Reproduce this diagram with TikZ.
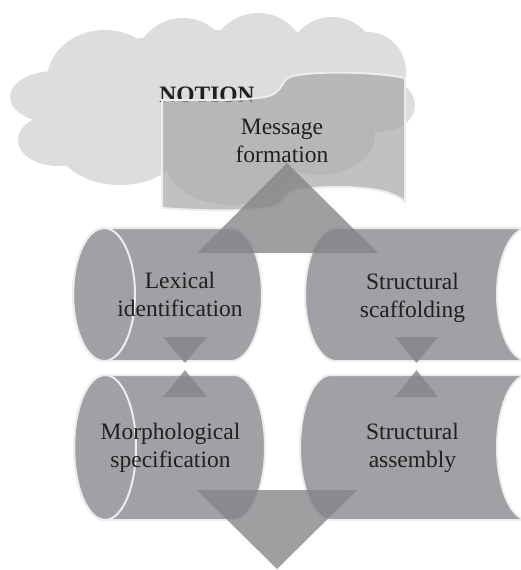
\documentclass[tikz,border=0pt]{standalone}
\usepackage{fontspec}
\setmainfont{Liberation Serif}
\definecolor{cloudgray}{HTML}{DCDDDF}
\definecolor{bannergray}{HTML}{A7A8AA}
\definecolor{cylgray}{HTML}{A0A1A4}
\definecolor{arrowgray}{HTML}{838487}
\definecolor{rimwhite}{HTML}{EDEDED}
\definecolor{inkdark}{HTML}{231F20}
\begin{document}
\begin{tikzpicture}[x=1pt,y=-1pt,
  banner/.style={fill=bannergray,fill opacity=0.71,draw=rimwhite,line width=2pt},
  cyl/.style={fill=cylgray,draw=rimwhite,line width=2pt},
  cylface/.style={draw=rimwhite,line width=2pt},
  arrowtri/.style={fill=arrowgray,fill opacity=0.78},
  steplabel/.style={font=\fontsize{23.5}{27.5}\selectfont,text=inkdark,
    align=center,inner sep=0pt,anchor=base},
  titlelabel/.style={font=\fontsize{23.5}{27.5}\selectfont\bfseries,text=inkdark,
    inner sep=0pt,anchor=base}]
\useasboundingbox (0,0) rectangle (521,570);

% cloud built from overlapping puffs
\fill[cloudgray]
  (220,100) ellipse[x radius=170,y radius=70]
  (55,97)   ellipse[x radius=45,y radius=26]
  (105,80)  ellipse[x radius=58,y radius=50]
  (183,65)  ellipse[x radius=48,y radius=47]
  (258,60)  ellipse[x radius=48,y radius=47]
  (332,62)  ellipse[x radius=45,y radius=45]
  (368,72)  ellipse[x radius=38,y radius=40]
  (380,105) ellipse[x radius=35,y radius=27]
  (58,140)  ellipse[x radius=40,y radius=26]
  (120,140) ellipse[x radius=65,y radius=45]
  (230,160) ellipse[x radius=65,y radius=45]
  (320,135) ellipse[x radius=55,y radius=40];

\node[titlelabel] (notion) at (207,102) {NOTION};

% waving banner
\path[banner] (162,100) -- (162,208)
  .. controls (200,211) and (255,212) .. (275,206)
  .. controls (285,203) and (283,192) .. (300,189)
  .. controls (340,185) and (390,186) .. (405,202)
  -- (405,78)
  .. controls (380,72) and (310,70) .. (290,77)
  .. controls (280,81) and (284,93) .. (265,97)
  .. controls (240,101) and (190,100) .. (162,100) -- cycle;

% upper left cylinder
\path[cyl] (104,228) -- (231,228)
  arc[start angle=270,end angle=450,x radius=31,y radius=66.5]
  -- (104,361)
  arc[start angle=90,end angle=270,x radius=31,y radius=66.5] -- cycle;
\draw[cylface] (104,294.5) ellipse[x radius=31,y radius=66.5];

% upper right cylinder
\path[cyl] (336,228) -- (528,228)
  arc[start angle=270,end angle=90,x radius=31,y radius=66.5]
  -- (336,361)
  arc[start angle=90,end angle=270,x radius=31,y radius=66.5] -- cycle;

% lower left cylinder
\path[cyl] (105,375) -- (234,375)
  arc[start angle=270,end angle=450,x radius=31,y radius=72.5]
  -- (105,520)
  arc[start angle=90,end angle=270,x radius=31,y radius=72.5] -- cycle;
\draw[cylface] (105,447.5) ellipse[x radius=31,y radius=72.5];

% lower right cylinder
\path[cyl] (331,375) -- (528,375)
  arc[start angle=270,end angle=90,x radius=31,y radius=72.5]
  -- (331,520)
  arc[start angle=90,end angle=270,x radius=31,y radius=72.5] -- cycle;

% flow triangles
\fill[arrowtri] (287,163) -- (378,253) -- (197,253) -- cycle;
\fill[arrowtri] (163,337) -- (207,337) -- (185,363) -- cycle;
\fill[arrowtri] (185,370) -- (207,397) -- (163,397) -- cycle;
\fill[arrowtri] (395,337) -- (438,337) -- (416.5,363) -- cycle;
\fill[arrowtri] (416.5,370) -- (438,397) -- (395,397) -- cycle;
\fill[arrowtri] (197,490) -- (357,490) -- (277,569) -- cycle;

% labels (anchored on the baseline of their last line)
\node[steplabel] (message) at (282,162) {Message\\formation};
\node[steplabel] (lexical) at (180,316) {Lexical\\identification};
\node[steplabel] (scaffold) at (412.5,317) {Structural\\scaffolding};
\node[steplabel] (morph) at (170.5,467) {Morphological\\specification};
\node[steplabel] (assembly) at (412.5,467) {Structural\\assembly};
\end{tikzpicture}
\end{document}
